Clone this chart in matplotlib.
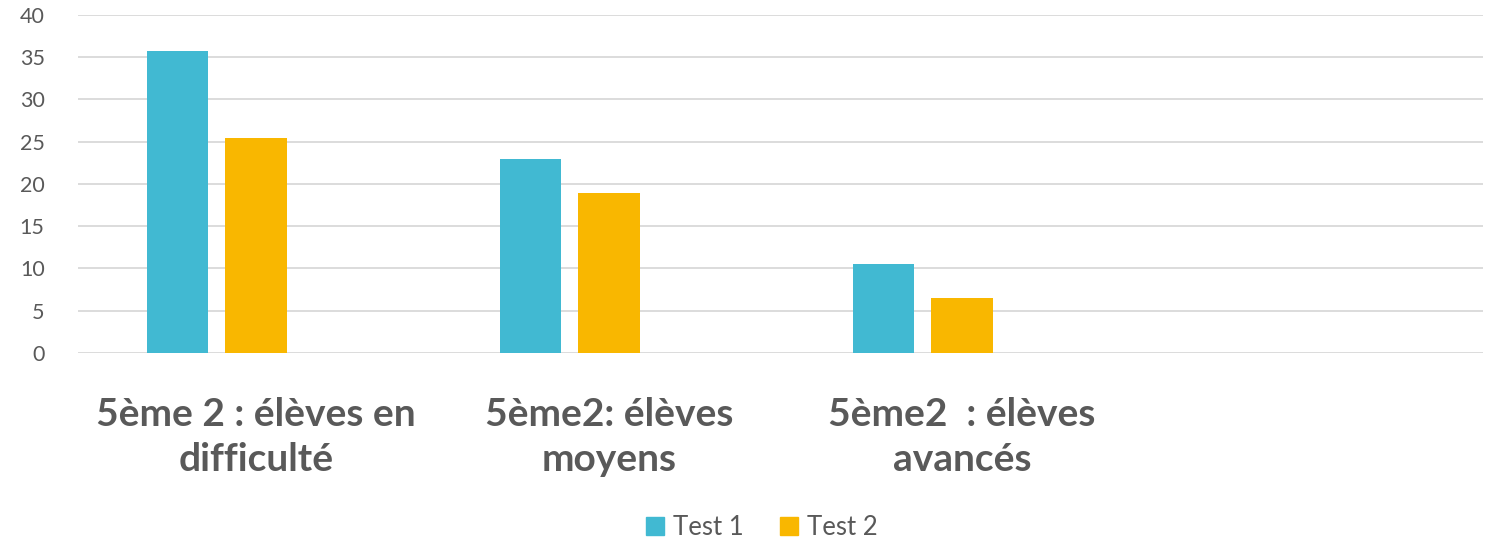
import numpy as np
import matplotlib.pyplot as plt
from matplotlib.patches import Patch

categories = ["5ème 2 : élèves en\ndifficulté", "5ème2: élèves\nmoyens", "5ème2  : élèves\navancés", ""]
test1 = [35.7, 23.0, 10.5, np.nan]
test2 = [25.4, 18.9, 6.5, np.nan]
series_names = ["Test 1", "Test 2"]
colors = ["#41B9D2", "#F9B700"]

plt.rcParams['font.family'] = ['Lato', 'DejaVu Sans']

fig = plt.figure(figsize=(14.88, 5.41), dpi=100)
ax = fig.add_axes([0.0524, 0.3475, 0.9442, 0.6248])

x = np.arange(len(categories))
step = 0.222
width = 0.174
for k, (vals, c) in enumerate(zip([test1, test2], colors)):
    ax.bar(x + (k - 1) * step, vals, width=width, color=c, zorder=3)

ax.set_xlim(-0.504, 3.476)
ax.set_ylim(0, 40)
ax.set_yticks(range(0, 41, 5))
ax.yaxis.grid(True, color="#D9D9D9", linewidth=1.3, zorder=0)
for s in ax.spines.values():
    s.set_visible(False)
ax.tick_params(axis='both', length=0)
ax.tick_params(axis='y', labelsize=15.5, labelcolor="#595959", pad=24)
ax.set_xticks(x)
ax.set_xticklabels(categories, fontsize=28, fontweight='bold', color="#595959", linespacing=1.32)
ax.tick_params(axis='x', pad=32)

handles = [Patch(color=c, label=n) for n, c in zip(series_names, colors)]
fig.legend(handles=handles, loc='center', bbox_to_anchor=(0.512, 0.025), ncol=2, frameon=False,
           fontsize=18.5, labelcolor="#595959", handlelength=0.7, handleheight=0.7,
           handletextpad=0.35, columnspacing=1.4)

fig.savefig("out.png", dpi=100, facecolor="white")
